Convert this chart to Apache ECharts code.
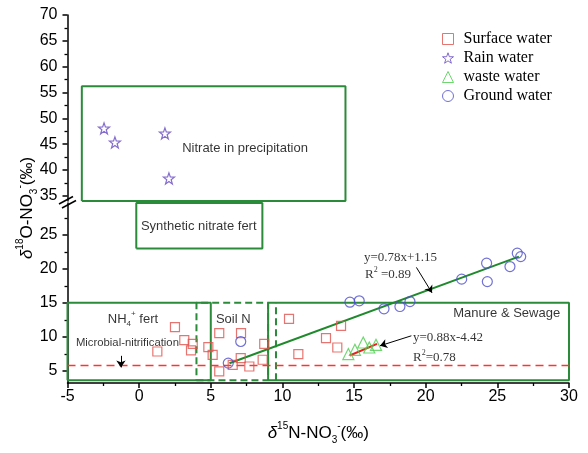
<!DOCTYPE html>
<html><head><meta charset="utf-8">
<script src="https://cdn.jsdelivr.net/npm/echarts@6/dist/echarts.min.js"></script>
<style>html,body{margin:0;padding:0;background:#fff}#c{width:588px;height:453px}</style>
</head><body><div id="c"></div>
<script>
// ---------- data ----------
const seriesNames = ['Surface water', 'Rain water', 'waste water', 'Ground water'];
const surfaceWater = [[1.27,7.84],[2.50,11.43],[3.15,9.51],[3.74,8.97],[3.62,7.99],[4.83,8.49],[5.13,7.35],[5.59,10.54],[7.11,10.54],[8.73,8.97],[5.59,4.90],[6.53,5.88],[7.09,6.87],[7.69,5.63],[8.62,6.62],[10.46,12.65],[14.09,11.62],[13.04,9.81],[13.83,8.43],[11.11,7.46]];
const rainWater = [[-2.45,48.06],[-1.69,45.34],[1.80,47.09],[2.08,38.37]];
const wasteWater = [[14.6,7.46],[15.06,8.09],[15.64,9.16],[16.06,8.43],[16.53,8.82]];
const groundWater = [[7.09,9.31],[6.22,6.13],[14.71,15.1],[15.36,15.3],[17.09,14.12],[18.2,14.46],[18.9,15.19],[22.51,18.49],[24.25,20.84],[24.3,18.13],[25.88,20.34],[26.39,22.31],[26.63,21.81]];
const fitGround = [[6.3,6.1],[26.5,21.8]];
const fitWaste = [[14.7,7.25],[16.6,8.95]];
const nitrificationY = 5.78;
const xTicks = [-5,0,5,10,15,20,25,30];
const upperYTicks = [35,40,45,50,55,60,65,70];
const upperYMinor = [37.5,42.5,47.5,52.5,57.5,62.5,67.5];
const lowerYTicks = [5,10,15,20,25];
const lowerYMinor = [7.5,12.5,17.5,22.5,27.5];
// source regions: [x1, x2, y1, y2]
const regionPrecip = [-4, 14.4, 34, 56.2];
const regionSynthetic = [-0.2, 8.6, 23, 29.7];
const regionNH4 = [-5, 5, 3.6, 15];
const regionSoil = [4, 9, 3.6, 15];
const regionManure = [9, 30, 3.6, 15];
const soilDashX = 9.55;

// ---------- styles ----------
const GREEN = '#2a8c3a';
const SANS = 'Liberation Sans';
const SERIF = 'Liberation Serif';
const STAR = 'path://M0,-10 L2.35,-3.24 L9.51,-3.09 L3.8,1.24 L5.88,8.09 L0,4 L-5.88,8.09 L-3.8,1.24 L-9.51,-3.09 L-2.35,-3.24 Z';
const COLORS = ['#e0524e', '#6548c0', '#4ccc4c', '#4e4ecc'];
const SYMBOLS = ['rect', STAR, 'triangle', 'circle'];

function rect(r){ return [[r[0],r[2]],[r[1],r[2]],[r[1],r[3]],[r[0],r[3]],[r[0],r[2]]]; }
// grid 0 uses yAxis 0 (major) ; grid 1 uses yAxis 2 (major)
function yIdx(gi){ return gi === 0 ? 0 : 2; }
function box(r, gi, dashed){
  return {type:'line', xAxisIndex:gi, yAxisIndex:yIdx(gi), data:rect(r), symbol:'none', clip:false, silent:true, z:1,
    lineStyle:{color:GREEN, width:2, type: dashed?[7,4]:'solid'}};
}
function seg(pts, gi, color, width, type){
  return {type:'line', xAxisIndex:gi, yAxisIndex:yIdx(gi), data:pts, symbol:'none', clip:false, silent:true, z:2,
    lineStyle:{color:color, width:width, type:type||'solid'}};
}
const subSup = {
  a:{fontFamily:SANS,fontSize:13,color:'#000',lineHeight:18},
  sub:{fontFamily:SANS,fontSize:8,color:'#000',verticalAlign:'bottom',lineHeight:8},
  sup:{fontFamily:SANS,fontSize:8,color:'#000',verticalAlign:'top',lineHeight:8},
  s:{fontFamily:SERIF,fontSize:13,color:'#000',lineHeight:18},
  ssup:{fontFamily:SERIF,fontSize:8,color:'#000',verticalAlign:'top',lineHeight:8}
};
function note(x, y, text, align, font, size){
  return {value:[x,y], label:{show:true, position:'inside', formatter:text, align:align||'center', verticalAlign:'middle',
    color:'#000', fontFamily:font||SANS, fontSize:size||13, rich:subSup}};
}
const upperNotes = [ note(7.39, 44.18, 'Nitrate in precipitation') ];
const lowerNotes = [
  note(4.16, 26.32, 'Synthetic nitrate fert'),
  note(-0.43, 12.6, '{a|NH}{sub|4}{sup|+}{a| fert}'),
  note(6.57, 12.6, 'Soil N'),
  note(25.65, 13.49, 'Manure & Sewage'),
  note(-4.41, 9.16, 'Microbial-nitrification', 'left', SANS, 11.3),
  note(15.69, 21.72, 'y=0.78x+1.15', 'left', SERIF, 13),
  note(15.76, 19.12, '{s|R}{ssup|2}{s| =0.89}', 'left', SERIF, 13),
  note(19.11, 9.96, 'y=0.88x-4.42', 'left', SERIF, 13),
  note(19.11, 6.87, '{s|R}{ssup|2}{s|=0.78}', 'left', SERIF, 13)
];
const arrows = [
  [[-1.27,7.2],[-1.27,5.5]],
  [[19.35,20.22],[20.44,16.47]],
  [[19.0,10.15],[16.81,8.68]]
];

const chart = echarts.init(document.getElementById('c'), null, {renderer:'canvas'});
const axisLineStyle = {color:'#000', width:1.5};
const labelStyle = {color:'#000', fontFamily:SANS, fontSize:16};

function yAxes(gi, min, max, ticks, minor){
  return [
    {gridIndex:gi, type:'value', position:'left', min:min, max:max,
     axisLine:{show:true, onZero:false, lineStyle:axisLineStyle},
     axisTick:{show:true, length:5, lineStyle:{color:'#000',width:1.5}, customValues:ticks},
     axisLabel:Object.assign({margin:10, customValues:ticks}, labelStyle),
     splitLine:{show:false}},
    {gridIndex:gi, type:'value', position:'left', min:min, max:max,
     axisLine:{show:false, onZero:false},
     axisTick:{show:true, length:3, lineStyle:{color:'#000',width:1.3}, customValues:minor},
     axisLabel:{show:false}, splitLine:{show:false}}
  ];
}

function scatter(i, gi, data, size){
  return {name:seriesNames[i], type:'scatter', xAxisIndex:gi, yAxisIndex:yIdx(gi), data:data, symbol:SYMBOLS[i], symbolSize:size, z:5,
    itemStyle:{color:'rgba(255,255,255,0)', borderColor:COLORS[i], borderWidth:1.2}};
}

const option = {
  animation:false,
  backgroundColor:'#fff',
  grid:[
    {left:67.5, top:15, width:501.5, height:186},
    {left:67.5, top:203, width:501.5, height:180}
  ],
  xAxis:[
    {gridIndex:0, type:'value', min:-5, max:30, show:false},
    {gridIndex:1, type:'value', min:-5, max:30, interval:5,
     axisLine:{show:true, onZero:false, lineStyle:axisLineStyle},
     axisTick:{show:true, length:5, lineStyle:{color:'#000',width:1.5}},
     minorTick:{show:true, splitNumber:2, length:3, lineStyle:{color:'#000',width:1.3}},
     axisLabel:Object.assign({margin:6}, labelStyle),
     splitLine:{show:false},
     name:'{i|δ}{sup|15}{t|N-NO}{sub|3}{sup|-}{t|(‰)}', nameLocation:'middle', nameGap:38,
     nameTextStyle:{rich:{
       i:{fontFamily:SANS,fontSize:17,fontStyle:'italic',color:'#000',lineHeight:24},
       t:{fontFamily:SANS,fontSize:17,color:'#000',lineHeight:24},
       sup:{fontFamily:SANS,fontSize:10,color:'#000',verticalAlign:'top',lineHeight:10},
       sub:{fontFamily:SANS,fontSize:10,color:'#000',verticalAlign:'bottom',lineHeight:10}
     }}}
  ],
  yAxis: yAxes(0, 34, 70, upperYTicks, upperYMinor).concat(yAxes(1, 3.2, 29.7, lowerYTicks, lowerYMinor)),
  legend:{
    orient:'vertical', left:437, top:26, itemWidth:11, itemHeight:11, itemGap:3,
    data:seriesNames.map((n,i)=>({name:n, icon:SYMBOLS[i],
      itemStyle:{color:'rgba(255,255,255,0)', borderColor:COLORS[i], borderWidth:1}})),
    textStyle:{fontFamily:SERIF, fontSize:16, color:'#000', padding:[0,0,0,5]}
  },
  graphic:[
    {type:'line', shape:{x1:59,y1:204,x2:73,y2:196.5}, style:{stroke:'#000',lineWidth:1.5}, silent:true},
    {type:'line', shape:{x1:62,y1:208,x2:76,y2:200.5}, style:{stroke:'#000',lineWidth:1.5}, silent:true},
    {type:'text', x:27, y:208, rotation:Math.PI/2, silent:true,
     style:{text:'{i|δ}{sup|18}{t|O-NO}{sub|3}{sup|-}{t|(‰)}', align:'center', verticalAlign:'middle',
       rich:{
         i:{fontFamily:SANS,fontSize:17,fontStyle:'italic',fill:'#000',lineHeight:24},
         t:{fontFamily:SANS,fontSize:17,fill:'#000',lineHeight:24},
         sup:{fontFamily:SANS,fontSize:10,fill:'#000',verticalAlign:'top',lineHeight:10},
         sub:{fontFamily:SANS,fontSize:10,fill:'#000',verticalAlign:'bottom',lineHeight:10}
       }}}
  ],
  series:[
    box(regionPrecip, 0, false),
    box(regionSynthetic, 1, false),
    box(regionNH4, 1, false),
    box(regionManure, 1, false),
    box(regionSoil, 1, true),
    seg([[soilDashX,regionSoil[2]],[soilDashX,regionSoil[3]]], 1, GREEN, 2, [7,4]),
    seg([[-5,nitrificationY],[30,nitrificationY]], 1, '#ff3333', 1.5, [8,5]),
    seg(fitGround, 1, '#1e8a2c', 2),
    seg(fitWaste, 1, '#ee1c1c', 2),
    scatter(0, 1, surfaceWater, 9),
    scatter(1, 0, rainWater, 11),
    scatter(2, 1, wasteWater, 11),
    scatter(3, 1, groundWater, 10),
    {type:'scatter', xAxisIndex:0, yAxisIndex:0, data:upperNotes, symbolSize:1, silent:true, z:6,
     itemStyle:{color:'rgba(0,0,0,0)'}},
    {type:'scatter', xAxisIndex:1, yAxisIndex:2, data:lowerNotes, symbolSize:1, silent:true, z:6,
     itemStyle:{color:'rgba(0,0,0,0)'},
     markLine:{silent:true, symbol:['none','arrow'], symbolSize:7, animation:false,
       lineStyle:{color:'#000', width:1, type:'solid'}, label:{show:false},
       emphasis:{disabled:true},
       data: arrows.map(a => [{coord:a[0]},{coord:a[1]}])}}
  ]
};
chart.setOption(option);
</script></body></html>
